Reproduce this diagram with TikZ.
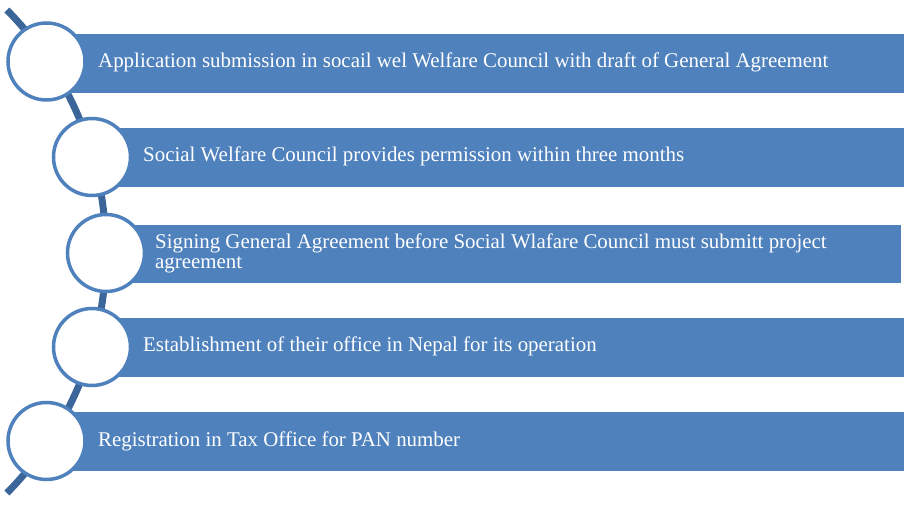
\documentclass[tikz,border=0pt]{standalone}
\usepackage{fontspec}
\setmainfont{Liberation Serif}
\definecolor{barblue}{HTML}{4F81BD}
\definecolor{arcblue}{HTML}{3C6699}
\begin{document}
\begin{tikzpicture}[x=1pt,y=1pt,
  bar/.style={fill=barblue,draw=none},
  dot/.style={circle,draw=barblue,line width=3.5pt,fill=white,minimum size=77pt,inner sep=0pt},
  lbl/.style={text=white,font=\fontsize{20.9}{20}\selectfont,inner sep=0pt,anchor=base west},
  lbltwo/.style={text=white,font=\fontsize{20.9}{20}\selectfont,inner sep=0pt,anchor=west,align=left}]
\useasboundingbox (0,0) rectangle (912,506);
% curved spine
\draw[arcblue,line width=7pt] (-238,254.5) ++(44.6:344) arc[start angle=44.6,end angle=-44.6,radius=344];
% bars
\path[bar] (46.5,413) rectangle (904,472);
\path[bar] (92,319) rectangle (904,378);
\path[bar] (106,223) rectangle (901,281);
\path[bar] (92,129) rectangle (904,188);
\path[bar] (46.5,35) rectangle (904,94);
% circles
\node[dot] (c1) at (46.5,444.5) {};
\node[dot] (c2) at (92,349) {};
\node[dot] (c3) at (106,253) {};
\node[dot] (c4) at (92,159) {};
\node[dot] (c5) at (46.5,65) {};
% labels
\node[lbl] (t1) at (98,438) {Application submission in socail wel Welfare Council with draft of General Agreement};
\node[lbl] (t2) at (143,344) {Social Welfare Council provides permission within three months};
\node[lbltwo] (t3) at (155,253) {Signing General Agreement before Social Wlafare Council must submitt project\\agreement};
\node[lbl] (t4) at (143,154) {Establishment of their office in Nepal for its operation};
\node[lbl] (t5) at (98,60) {Registration in Tax Office for PAN number};
\end{tikzpicture}
\end{document}
